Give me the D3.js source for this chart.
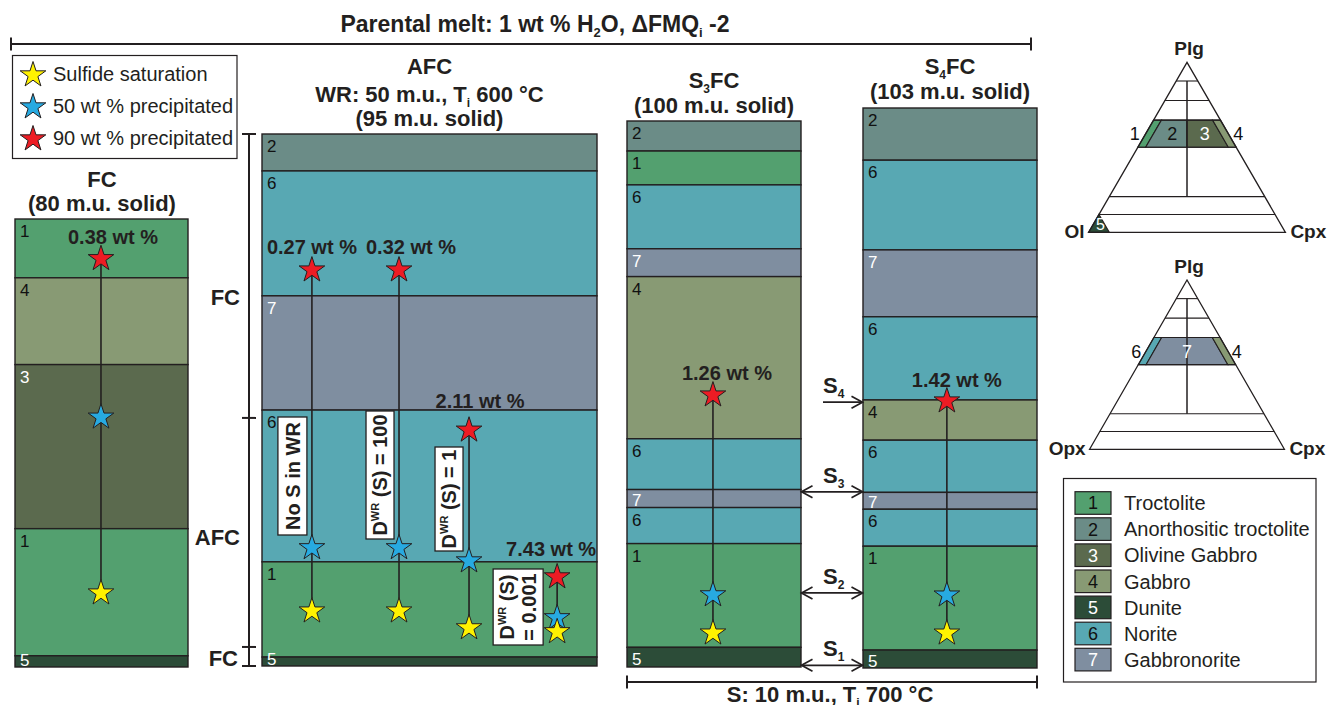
<!DOCTYPE html>
<html>
<head>
<meta charset="utf-8">
<script src="https://cdn.jsdelivr.net/npm/d3@7/dist/d3.min.js"></script>
<style>
  html, body { margin:0; padding:0; background:#ffffff; }
  svg { display:block; font-family:"Liberation Sans", Arial, Helvetica, sans-serif; }
</style>
</head>
<body>
<svg id="chart" width="1328" height="705" viewBox="0 0 1328 705"></svg>
<script>
// ================= DATA =================
const rockIds   = [1, 2, 3, 4, 5, 6, 7];
const rockNames = ["Troctolite", "Anorthositic troctolite", "Olivine Gabbro", "Gabbro", "Dunite", "Norite", "Gabbronorite"];

// layer sequences, top -> bottom, thickness in mass units (m.u.)
const fcRocks  = [1, 4, 3, 1, 5];
const fcThick  = [10.5, 15.5, 29.3, 22.7, 2.0];
const afcRocks = [2, 6, 7, 6, 1, 5];
const afcThick = [6.6, 22.3, 20.4, 27.1, 17.0, 1.6];
const s3Rocks  = [2, 1, 6, 7, 4, 6, 7, 6, 1, 5];
const s3Thick  = [5.5, 6.2, 11.7, 5.1, 29.7, 9.3, 3.3, 6.6, 19.0, 3.6];
const s4Rocks  = [2, 6, 7, 6, 4, 6, 7, 6, 1, 5];
const s4Thick  = [9.6, 16.5, 12.3, 15.3, 7.4, 9.6, 3.1, 6.8, 19.1, 3.3];

// star markers: [sulfide saturation, 50 wt % precipitated, 90 wt % precipitated], in m.u. above base
const starKinds     = ["Sulfide saturation", "50 wt % precipitated", "90 wt % precipitated"];
const fcStarLevels  = [13.2, 44.6, 72.9];
const fcSulfide     = "0.38";
const afcScenarios  = ["No S in WR", "DWR100", "DWR1", "DWR0.001"];
const afcSat        = [9.8, 9.8, 6.8, 6.1];
const afc50         = [21.1, 21.1, 18.75, 8.6];
const afc90         = [70.7, 70.7, 42.1, 15.9];
const afcSulfide    = ["0.27", "0.32", "2.11", "7.43"];
const s3StarLevels  = [6.2, 13.2, 49.8];
const s3Sulfide     = "1.26";
const s4StarLevels  = [6.4, 13.4, 49.1];
const s4Sulfide     = "1.42";

// AFC stage bracket (m.u. in AFC column)
const afcStageNames  = ["FC", "AFC", "FC"];
const afcStageBounds = [95, 44.3, 3.4, 0];

// S injections (m.u. in S4FC column)
const sEventNames  = ["1", "2", "3", "4"];
const sEventLevels = [0.5, 13.8, 32.4, 48.9];

// ternary classification: Plg fraction lines, strip cut, dunite Ol cut
const triPlgLines = [0.89, 0.775, 0.66, 0.50, 0.21, 0.105];
const triStripCut = 0.04;
const duniteOl    = 0.895;

// ================= STYLE =================
const INK = "#231f20";
const rockColor = {1:"#53a06f", 2:"#6b8c87", 3:"#5b6a4e", 4:"#889a74", 5:"#2c4c38", 6:"#58a8b3", 7:"#7f8ea0"};
const lightRocks = new Set([3, 5, 7]);
const starFill = ["#fff200", "#27aae1", "#ed1c24"];
const STAR_R = 13.5;
const starPath = d3.symbol(d3.symbolStar, STAR_R * STAR_R / 0.8908130915292852)();

// ================= LAYOUT =================
const colFC  = {x0:15,  x1:188,  top:219, bottom:667, lineFrac:0.497};
const colAFC = {x0:262, x1:597,  top:134, bottom:666};
const colS3  = {x0:627, x1:801,  top:121, bottom:667, lineFrac:0.494};
const colS4  = {x0:863, x1:1037, top:108, bottom:668, lineFrac:0.482};

const svg = d3.select("#chart");

function rich(sel, parts, size) {
  let shift = 0;
  parts.forEach(p => {
    const s = p[0], m = p[1];
    const ts = sel.append("tspan").text(s);
    let target = 0;
    if (m === "sub") { ts.attr("font-size", Math.round(size * 0.56)); target = size * 0.22; }
    else if (m === "sup") { ts.attr("font-size", Math.round(size * 0.55)); target = -size * 0.42; }
    const dy = target - shift;
    if (Math.abs(dy) > 0.01) ts.attr("dy", dy.toFixed(2));
    shift = target;
  });
  return sel;
}
function txt(g, x, yc, size, weight, anchor, fill) {
  return g.append("text")
    .attr("x", x).attr("y", yc + 0.36 * size)
    .attr("font-size", size)
    .attr("font-weight", weight || "normal")
    .attr("text-anchor", anchor || "start")
    .attr("fill", fill || INK);
}

// ---------- main title & top bracket ----------
rich(txt(svg, 535, 23.5, 23, "bold", "middle"),
  [["Parental melt: 1 wt % H"], ["2", "sub"], ["O, \u0394FMQ"], ["i", "sub"], [" -2"]], 23);

function hBracket(x0, x1, y) {
  const g = svg.append("g").attr("stroke", INK).attr("stroke-width", 2).attr("fill", "none");
  g.append("line").attr("x1", x0).attr("x2", x1).attr("y1", y).attr("y2", y);
  g.append("line").attr("x1", x0).attr("x2", x0).attr("y1", y - 6.5).attr("y2", y + 6.5);
  g.append("line").attr("x1", x1).attr("x2", x1).attr("y1", y - 6.5).attr("y2", y + 6.5);
}
hBracket(11, 1031, 44);

// ---------- star legend (top-left) ----------
const legS = svg.append("g");
legS.append("rect").attr("x", 12.5).attr("y", 55.5).attr("width", 224.5).attr("height", 103)
  .attr("fill", "#fff").attr("stroke", INK).attr("stroke-width", 1.2);
starKinds.forEach((k, i) => {
  const y = 74 + i * 32;
  legS.append("path").attr("d", starPath).attr("transform", `translate(33,${y + 1})`)
    .attr("fill", starFill[i]).attr("stroke", INK).attr("stroke-width", 1);
  txt(legS, 53, y, 20, "normal", "start").text(k);
});

// ---------- columns ----------
function drawColumn(rocks, thick, L) {
  const total = d3.sum(thick);
  const y = d3.scaleLinear().domain([0, total]).range([L.bottom, L.top]);
  let acc = total;
  const layers = rocks.map((r, i) => { const top = acc; acc -= thick[i]; return {rock:r, top:top, bot:acc}; });
  const g = svg.append("g");
  g.selectAll("rect").data(layers).join("rect")
    .attr("x", L.x0).attr("width", L.x1 - L.x0)
    .attr("y", d => y(d.top)).attr("height", d => y(d.bot) - y(d.top))
    .attr("fill", d => rockColor[d.rock])
    .attr("stroke", INK).attr("stroke-width", 1.4);
  g.selectAll("text").data(layers).join("text")
    .attr("x", L.x0 + 5)
    .attr("y", d => Math.min(y(d.top) + 18, y(d.bot) - 1.5))
    .attr("font-size", 17)
    .attr("fill", d => lightRocks.has(d.rock) ? "#ffffff" : "#111111")
    .text(d => d.rock);
  return y;
}
const yFC  = drawColumn(fcRocks, fcThick, colFC);
const yAFC = drawColumn(afcRocks, afcThick, colAFC);
const yS3  = drawColumn(s3Rocks, s3Thick, colS3);
const yS4  = drawColumn(s4Rocks, s4Thick, colS4);

// column titles
const gT = svg.append("g");
rich(txt(gT, 102, 179.5, 22, "bold", "middle"), [["FC"]], 22);
rich(txt(gT, 102, 203, 22, "bold", "middle"), [["(80 m.u. solid)"]], 22);
rich(txt(gT, 429.5, 66, 22, "bold", "middle"), [["AFC"]], 22);
rich(txt(gT, 429.5, 94.5, 22, "bold", "middle"), [["WR: 50 m.u., T"], ["i", "sub"], [" 600 \u00B0C"]], 22);
rich(txt(gT, 429.5, 118.5, 22, "bold", "middle"), [["(95 m.u. solid)"]], 22);
rich(txt(gT, 714, 80, 22, "bold", "middle"), [["S"], ["3", "sub"], ["FC"]], 22);
rich(txt(gT, 714, 105, 22, "bold", "middle"), [["(100 m.u. solid)"]], 22);
rich(txt(gT, 950, 66.5, 22, "bold", "middle"), [["S"], ["4", "sub"], ["FC"]], 22);
rich(txt(gT, 950, 91, 22, "bold", "middle"), [["(103 m.u. solid)"]], 22);

// ---------- AFC stage bracket ----------
const gB = svg.append("g");
const bx = 249;
gB.append("line").attr("x1", bx).attr("x2", bx)
  .attr("y1", yAFC(afcStageBounds[0])).attr("y2", yAFC(afcStageBounds[afcStageBounds.length - 1]))
  .attr("stroke", INK).attr("stroke-width", 2);
afcStageBounds.forEach(b => {
  gB.append("line").attr("x1", bx - 7).attr("x2", bx + 7).attr("y1", yAFC(b)).attr("y2", yAFC(b))
    .attr("stroke", INK).attr("stroke-width", 2);
});
const stageLabelMu = [65.9, 23.0, 1.4];
const stageLabelX  = [240, 240, 238];
afcStageNames.forEach((n, i) => {
  txt(gB, stageLabelX[i], yAFC(stageLabelMu[i]), 22, "bold", "end").text(n);
});

// ---------- AFC scenario boxes ----------
const gBox = svg.append("g");
const afcLineFrac = [0.149, 0.409, 0.618, 0.881];
const xAFC = d3.scaleLinear().domain([0, 1]).range([colAFC.x0, colAFC.x1]);
const boxSpec = [
  {dx:-19.5, cy:476, w:29, h:118},
  {dx:-19,   cy:475, w:28, h:128},
  {dx:-20,   cy:499, w:28, h:104},
  {dx:-39,   cy:607, w:50, h:76}
];
function dwrParts(rest) { return [["D"], ["WR", "sup"], [rest]]; }
afcScenarios.forEach((s, i) => {
  const b = boxSpec[i];
  const cx = xAFC(afcLineFrac[i]) + b.dx;
  gBox.append("rect").attr("x", cx - b.w / 2).attr("y", b.cy - b.h / 2)
    .attr("width", b.w).attr("height", b.h)
    .attr("fill", "#ffffff").attr("stroke", INK).attr("stroke-width", 1.3);
  const g = gBox.append("g").attr("transform", `translate(${cx},${b.cy}) rotate(-90)`);
  if (i === 0) {
    rich(txt(g, 0, 0, 20, "bold", "middle"), [["No S in WR"]], 20);
  } else if (i === 1) {
    rich(txt(g, 0, 0, 20, "bold", "middle"), dwrParts(" (S) = 100"), 20);
  } else if (i === 2) {
    rich(txt(g, 0, 0, 20, "bold", "middle"), dwrParts(" (S) = 1"), 20);
  } else {
    rich(txt(g, 0, -11, 20, "bold", "middle"), dwrParts(" (S)"), 20);
    rich(txt(g, 0, 11, 20, "bold", "middle"), [["= 0.001"]], 20);
  }
});

// ---------- star stacks ----------
const gLines = svg.append("g");
const gStars = svg.append("g");
const gLab = svg.append("g");
function drawStack(x, yS, levels, label, ldx, ldy) {
  gLines.append("line").attr("x1", x).attr("x2", x)
    .attr("y1", yS(levels[2])).attr("y2", yS(levels[0]))
    .attr("stroke", INK).attr("stroke-width", 1.6);
  [2, 1, 0].forEach(k => {
    gStars.append("path").attr("d", starPath)
      .attr("transform", `translate(${x},${yS(levels[k])})`)
      .attr("fill", starFill[k]).attr("stroke", INK).attr("stroke-width", 1);
  });
  txt(gLab, x + ldx, yS(levels[2]) + ldy, 20, "bold", "middle").text(label + " wt %");
}
const colX = c => c.x0 + (c.x1 - c.x0) * c.lineFrac;
drawStack(colX(colFC), yFC, fcStarLevels, fcSulfide, 12, -22);
const afcLabelOff = [[0, -23], [12, -23], [11, -29], [-6, -28]];
afcScenarios.forEach((s, i) => {
  drawStack(xAFC(afcLineFrac[i]), yAFC, [afcSat[i], afc50[i], afc90[i]], afcSulfide[i],
    afcLabelOff[i][0], afcLabelOff[i][1]);
});
drawStack(colX(colS3), yS3, s3StarLevels, s3Sulfide, 14, -22);
drawStack(colX(colS4), yS4, s4StarLevels, s4Sulfide, 10, -21);

// ---------- S injection arrows ----------
const gA = svg.append("g");
function head(tipX, y, dir) {
  gA.append("path")
    .attr("d", `M${tipX - 11 * dir},${y - 6} L${tipX},${y} L${tipX - 11 * dir},${y + 6}`)
    .attr("fill", "none").attr("stroke", INK).attr("stroke-width", 1.7);
}
sEventNames.forEach((n, i) => {
  const y = yS4(sEventLevels[i]);
  const single = i === sEventNames.length - 1;
  const xa = single ? 823 : colS3.x1 + 0.5;
  const xb = colS4.x0 - 0.5;
  gA.append("line").attr("x1", xa).attr("x2", xb).attr("y1", y).attr("y2", y)
    .attr("stroke", INK).attr("stroke-width", 1.7);
  head(xb, y, 1);
  if (!single) head(xa, y, -1);
  rich(txt(gA, 823, y - 17, 22, "bold", "start"), [["S"], [n, "sub"]], 22);
});

// bottom bracket
hBracket(colS3.x0, colS4.x1, 682);
rich(txt(svg, 830, 694, 22, "bold", "middle"),
  [["S: 10 m.u., T"], ["i", "sub"], [" 700 \u00B0C"]], 22);

// ---------- ternary diagrams ----------
function ternary(T) {
  // p = Plg fraction, l = left-vertex fraction, r = right-vertex (Cpx) fraction
  return (p, l, r) => [T.ax + (r - l) * T.hw, T.ay + (1 - p) * T.h];
}
function drawTernary(T, regions, labels, leftName) {
  const f = ternary(T);
  const g = svg.append("g");
  const line = d3.line();
  regions.forEach(rg => {
    g.append("path").attr("d", line(rg.pts.map(q => f(q[0], q[1], q[2]))) + "Z")
      .attr("fill", rockColor[rg.rock]).attr("stroke", INK).attr("stroke-width", 1.1);
  });
  g.append("path").attr("d", line([f(1, 0, 0), f(0, 1, 0), f(0, 0, 1)]) + "Z")
    .attr("fill", "none").attr("stroke", INK).attr("stroke-width", 1.3);
  triPlgLines.forEach(p => {
    const a = f(p, 1 - p, 0), b = f(p, 0, 1 - p);
    g.append("line").attr("x1", a[0]).attr("y1", a[1]).attr("x2", b[0]).attr("y2", b[1])
      .attr("stroke", INK).attr("stroke-width", 1.1);
  });
  const pTop = triPlgLines[0], pBot = triPlgLines[4];
  const va = f(pTop, (1 - pTop) / 2, (1 - pTop) / 2), vb = f(pBot, (1 - pBot) / 2, (1 - pBot) / 2);
  g.append("line").attr("x1", va[0]).attr("y1", va[1]).attr("x2", vb[0]).attr("y2", vb[1])
    .attr("stroke", INK).attr("stroke-width", 1.5);
  labels.forEach(lb => {
    const d = lb.d, p = lb.p;
    const pos = f(p, (1 - p - d) / 2, (1 - p + d) / 2);
    txt(g, pos[0], pos[1], lb.size || 18, "normal", "middle", lightRocks.has(lb.rock) ? "#fff" : "#111").text(lb.rock);
  });
  const apex = f(1, 0, 0), lv = f(0, 1, 0), rv = f(0, 0, 1);
  txt(g, apex[0] + 2, apex[1] - 14, 19, "bold", "middle").text("Plg");
  txt(g, lv[0] - 4, lv[1] - 1, 19, "bold", "end").text(leftName);
  txt(g, rv[0] + 5, rv[1] - 1, 19, "bold", "start").text("Cpx");
}
const pA = triPlgLines[2], pB = triPlgLines[3], c = triStripCut;
const stripL = [[pA, 1 - pA, 0], [pA, 1 - pA - c, c], [pB, 1 - pB - c, c], [pB, 1 - pB, 0]];
const stripR = [[pA, 0, 1 - pA], [pA, c, 1 - pA - c], [pB, c, 1 - pB - c], [pB, 0, 1 - pB]];
const midL = [[pA, 1 - pA - c, c], [pA, (1 - pA) / 2, (1 - pA) / 2], [pB, (1 - pB) / 2, (1 - pB) / 2], [pB, 1 - pB - c, c]];
const midR = [[pA, (1 - pA) / 2, (1 - pA) / 2], [pA, c, 1 - pA - c], [pB, c, 1 - pB - c], [pB, (1 - pB) / 2, (1 - pB) / 2]];
const midAll = [[pA, 1 - pA - c, c], [pA, c, 1 - pA - c], [pB, c, 1 - pB - c], [pB, 1 - pB - c, c]];
const dunite = [[0, 1, 0], [1 - duniteOl, duniteOl, 0], [0, duniteOl, 1 - duniteOl]];
const pMid = (pA + pB) / 2;

drawTernary({ax:1187, ay:62.3, h:170, hw:98.4},
  [{rock:1, pts:stripL}, {rock:2, pts:midL}, {rock:3, pts:midR}, {rock:4, pts:stripR}, {rock:5, pts:dunite}],
  [{rock:1, p:pMid, d:-0.53}, {rock:2, p:pMid, d:-0.15}, {rock:3, p:pMid, d:0.18}, {rock:4, p:pMid, d:0.52},
   {rock:5, p:0.045, d:-0.88, size:16}],
  "Ol");
drawTernary({ax:1187, ay:280, h:169.3, hw:97.4},
  [{rock:6, pts:stripL}, {rock:7, pts:midAll}, {rock:4, pts:stripR}],
  [{rock:6, p:pMid, d:-0.52}, {rock:7, p:pMid, d:0}, {rock:4, p:pMid, d:0.51}],
  "Opx");

// ---------- rock legend (bottom-right) ----------
const gL = svg.append("g");
gL.append("rect").attr("x", 1063.5).attr("y", 478.5).attr("width", 252.5).attr("height", 203.5)
  .attr("fill", "#fff").attr("stroke", INK).attr("stroke-width", 1.2);
const yLeg = d3.scalePoint().domain(rockIds).range([503, 659.6]);
rockIds.forEach((id, i) => {
  const y = yLeg(id);
  gL.append("rect").attr("x", 1075).attr("y", y - 11.3).attr("width", 36).attr("height", 22.6)
    .attr("fill", rockColor[id]).attr("stroke", INK).attr("stroke-width", 1.2);
  txt(gL, 1093, y, 18, "normal", "middle", lightRocks.has(id) ? "#fff" : "#111").text(id);
  txt(gL, 1124, y, 20, "normal", "start").text(rockNames[i]);
});
</script>
</body>
</html>
